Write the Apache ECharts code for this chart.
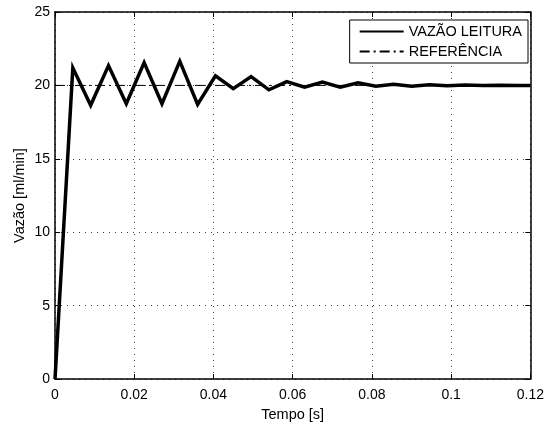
<!DOCTYPE html>
<html><head><meta charset="utf-8">
<script src="https://cdn.jsdelivr.net/npm/echarts@6/dist/echarts.min.js"></script>
<style>html,body{margin:0;padding:0;background:#fff}#c{width:547px;height:427px}</style>
</head><body><div id="c"></div>
<script>
const timeS = [0,0.0045,0.009,0.0135,0.018,0.0225,0.027,0.0315,0.036,0.0405,0.045,0.0495,0.054,0.0585,0.063,0.0675,0.072,0.0765,0.081,0.0855,0.09,0.0945,0.099,0.1035,0.108,0.1125,0.117,0.12];
const vazaoLeitura = [0,21.2,18.65,21.35,18.75,21.55,18.75,21.65,18.7,20.65,19.78,20.6,19.7,20.26,19.88,20.22,19.88,20.18,19.95,20.08,19.95,20.05,19.97,20.03,19.99,20.02,20.0,20.0];
const referenciaX = [0,0.12];
const referenciaY = [20,20];
const xTicks = [0,0.02,0.04,0.06,0.08,0.1,0.12];
const yTicks = [0,5,10,15,20,25];

const font = 'Liberation Sans, Arial, Helvetica, sans-serif';
const chart = echarts.init(document.getElementById('c'), null, {renderer:'canvas'});
const gridLine = {show:true, lineStyle:{color:'#000', type:[1,5], width:1, opacity:0.75}};
chart.setOption({
  animation:false,
  backgroundColor:'#fff',
  grid:{left:55,right:14,top:12,bottom:39,containLabel:false},
  legend:{
    orient:'vertical', right:19, top:20, itemWidth:44, itemHeight:13, itemGap:5,
    padding:[4,6,4,9], borderColor:'#000', borderWidth:1, backgroundColor:'#fff', borderRadius:0,
    itemStyle:{opacity:0},
    textStyle:{fontFamily:font,fontSize:14.5,color:'#000',padding:[0,0,0,0]},
    data:['VAZÃO LEITURA','REFERÊNCIA']
  },
  xAxis:[{
    type:'value', min:0, max:0.12, interval:0.02,
    axisLine:{show:true,onZero:false,lineStyle:{color:'#000',width:1.5}},
    axisTick:{show:true,inside:true,length:5,lineStyle:{color:'#000'}},
    axisLabel:{color:'#000',fontFamily:font,fontSize:14,margin:9,formatter:v=>String(+v.toFixed(2))},
    splitLine:gridLine,
    name:'Tempo [s]', nameLocation:'middle', nameGap:22,
    nameTextStyle:{color:'#000',fontFamily:font,fontSize:14.5}
  },{
    type:'value', position:'top', min:0, max:0.12, interval:0.02,
    axisLine:{show:true,onZero:false,lineStyle:{color:'#000',width:1.5}},
    axisTick:{show:true,inside:true,length:5,lineStyle:{color:'#000'}},
    axisLabel:{show:false}, splitLine:{show:false}
  }],
  yAxis:[{
    type:'value', min:0, max:25, interval:5,
    axisLine:{show:true,onZero:false,lineStyle:{color:'#000',width:1.5}},
    axisTick:{show:true,inside:true,length:5,lineStyle:{color:'#000'}},
    axisLabel:{color:'#000',fontFamily:font,fontSize:14,margin:5},
    splitLine:gridLine,
    name:'Vazão [ml/min]', nameLocation:'middle', nameGap:28, nameMoveOverlap:false,
    nameTextStyle:{color:'#000',fontFamily:font,fontSize:14.5}
  },{
    type:'value', position:'right', min:0, max:25, interval:5,
    axisLine:{show:true,onZero:false,lineStyle:{color:'#000',width:1.5}},
    axisTick:{show:true,inside:true,length:5,lineStyle:{color:'#000'}},
    axisLabel:{show:false}, splitLine:{show:false}
  }],
  series:[{
    name:'REFERÊNCIA', type:'line', symbol:'none', silent:true,
    itemStyle:{color:'#000'},
    data:referenciaX.map((x,i)=>[x,referenciaY[i]]),
    lineStyle:{color:'#000',width:1,type:[10,4,2,4]}, z:2
  },{
    name:'VAZÃO LEITURA', type:'line', symbol:'none', silent:true,
    itemStyle:{color:'#000'},
    data:timeS.map((x,i)=>[x,vazaoLeitura[i]]),
    lineStyle:{color:'#000',width:3.5,join:'miter'}, z:3
  }]
});
</script></body></html>
